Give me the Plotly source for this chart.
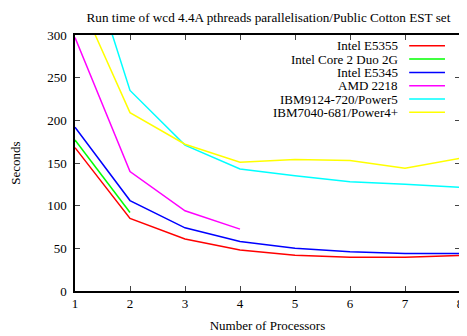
import plotly.graph_objects as go

processors = [1, 2, 3, 4, 5, 6, 7, 8]

series_names = ["Intel E5355", "Intel Core 2 Duo 2G", "Intel E5345", "AMD 2218",
                "IBM9124-720/Power5", "IBM7040-681/Power4+"]
series_colors = ["#ff0000", "#00ff00", "#0000ff", "#ff00ff", "#00ffff", "#ffff00"]

intel_e5355 = [168, 85, 61, 48, 42, 39.5, 39.5, 41.5]
intel_core2duo = [177, 92]
intel_e5345 = [192, 106, 74, 58, 50, 46, 44, 44]
amd_2218 = [297, 140, 94, 72.5]
ibm_power5 = [438, 235, 171, 143, 135, 128, 125, 121.5]
ibm_power4 = [353, 209, 172, 151, 154, 153, 144, 155.5]

series_values = [intel_e5355, intel_core2duo, intel_e5345, amd_2218, ibm_power5, ibm_power4]

font_family = "Liberation Serif"

fig = go.Figure()
for name, color, vals in zip(series_names, series_colors, series_values):
    fig.add_trace(go.Scatter(
        x=processors[:len(vals)], y=vals, mode="lines", name=name,
        line=dict(color=color, width=1.5), showlegend=False,
    ))

# gnuplot-style legend: right-aligned text with line sample on the right
leg_top = 0.958
leg_step = 0.052
for i, (name, color) in enumerate(zip(series_names, series_colors)):
    yy = leg_top - i * leg_step
    fig.add_annotation(xref="paper", yref="paper", x=0.845, y=yy, text=name,
                       showarrow=False, xanchor="right", yanchor="middle",
                       font=dict(family=font_family, size=13, color="black"))
    fig.add_shape(type="line", xref="paper", yref="paper", x0=0.868, x1=0.961,
                  y0=yy, y1=yy, line=dict(color=color, width=1.5))

fig.update_layout(
    width=459, height=328,
    margin=dict(l=67, r=4, t=27, b=45),
    paper_bgcolor="white", plot_bgcolor="white",
    font=dict(family=font_family, size=13, color="black"),
    title=dict(text="Run time of wcd 4.4A pthreads parallelisation/Public Cotton EST set",
               x=0.5675, xanchor="center", y=0.9726, yanchor="middle",
               font=dict(family=font_family, size=13.2, color="black")),
    showlegend=False,
)
fig.update_xaxes(
    range=[1, 8], tickvals=processors, ticks="inside", ticklen=5, tickwidth=1,
    showline=True, linecolor="black", linewidth=1.5, mirror="allticks",
    showgrid=False, zeroline=False,
    title=dict(text="Number of Processors", standoff=11, font=dict(size=13)),
)
fig.update_yaxes(
    range=[0, 300], tickvals=[0, 50, 100, 150, 200, 250, 300], ticks="inside",
    ticklen=5, tickwidth=1, ticklabelstandoff=4,
    showline=True, linecolor="black", linewidth=1.5, mirror="allticks",
    showgrid=False, zeroline=False,
    title=dict(text="Seconds", standoff=24, font=dict(size=13)),
)

fig.write_html("out.html")
